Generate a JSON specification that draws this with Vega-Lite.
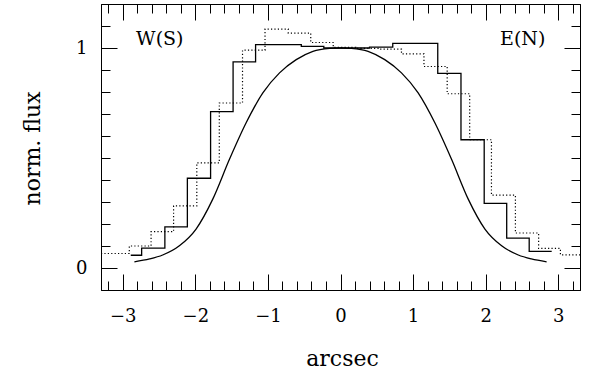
{
  "$schema": "https://vega.github.io/schema/vega-lite/v6.json",
  "width": 479,
  "height": 286,
  "autosize": "none",
  "padding": {"left": 101, "top": 4, "right": 19, "bottom": 86},
  "background": "white",
  "config": {
    "view": {"stroke": "black", "strokeWidth": 1},
    "axis": {
      "domainColor": "black",
      "domainWidth": 1,
      "tickColor": "black",
      "tickWidth": 1,
      "grid": false,
      "labelFont": "DejaVu Serif",
      "labelFontSize": 18,
      "labelColor": "black",
      "titleFont": "DejaVu Serif",
      "titleFontSize": 22,
      "titleFontWeight": "normal",
      "titleColor": "black",
      "labelFlush": false,
      "labelOverlap": false
    }
  },
  "datasets": {
    "curve": [
      {"x": -2.84, "y": 0.028}, {"x": -2.63, "y": 0.041}, {"x": -2.45, "y": 0.059}, {"x": -2.22, "y": 0.101},
      {"x": -1.99, "y": 0.177}, {"x": -1.76, "y": 0.313}, {"x": -1.53, "y": 0.494}, {"x": -1.30, "y": 0.66},
      {"x": -1.07, "y": 0.796}, {"x": -0.84, "y": 0.887}, {"x": -0.61, "y": 0.947}, {"x": -0.38, "y": 0.985},
      {"x": -0.15, "y": 0.998}, {"x": 0, "y": 1.0}, {"x": 0.15, "y": 0.998}, {"x": 0.38, "y": 0.985},
      {"x": 0.61, "y": 0.947}, {"x": 0.84, "y": 0.887}, {"x": 1.07, "y": 0.796}, {"x": 1.30, "y": 0.66},
      {"x": 1.53, "y": 0.494}, {"x": 1.76, "y": 0.313}, {"x": 1.99, "y": 0.177}, {"x": 2.22, "y": 0.101},
      {"x": 2.45, "y": 0.059}, {"x": 2.63, "y": 0.041}, {"x": 2.84, "y": 0.028}
    ],
    "solid": [
      {"x": -2.89, "y": 0.058}, {"x": -2.74, "y": 0.090}, {"x": -2.42, "y": 0.187}, {"x": -2.11, "y": 0.408},
      {"x": -1.79, "y": 0.711}, {"x": -1.48, "y": 0.937}, {"x": -1.17, "y": 1.015}, {"x": -0.54, "y": 1.007},
      {"x": -0.23, "y": 1.0}, {"x": 0.40, "y": 1.004}, {"x": 0.72, "y": 1.021}, {"x": 1.34, "y": 0.885},
      {"x": 1.66, "y": 0.583}, {"x": 1.98, "y": 0.294}, {"x": 2.29, "y": 0.136}, {"x": 2.60, "y": 0.076},
      {"x": 2.91, "y": 0.076}
    ],
    "dotted": [
      {"x": -3.30, "y": 0.066}, {"x": -2.91, "y": 0.100}, {"x": -2.61, "y": 0.165}, {"x": -2.30, "y": 0.282},
      {"x": -1.98, "y": 0.478}, {"x": -1.67, "y": 0.750}, {"x": -1.35, "y": 0.990}, {"x": -1.04, "y": 1.086},
      {"x": -0.72, "y": 1.068}, {"x": -0.41, "y": 1.025}, {"x": -0.10, "y": 1.003}, {"x": 0.21, "y": 0.998},
      {"x": 0.53, "y": 0.995}, {"x": 0.84, "y": 0.973}, {"x": 1.15, "y": 0.916}, {"x": 1.47, "y": 0.792},
      {"x": 1.78, "y": 0.583}, {"x": 2.08, "y": 0.331}, {"x": 2.41, "y": 0.159}, {"x": 2.73, "y": 0.089},
      {"x": 3.03, "y": 0.060}, {"x": 3.30, "y": 0.060}
    ],
    "labels": [
      {"x": -2.49, "y": 1.042, "text": "W(S)"},
      {"x": 2.51, "y": 1.042, "text": "E(N)"}
    ]
  },
  "layer": [
    {
      "data": {"name": "curve"},
      "mark": {"type": "line", "color": "black", "strokeWidth": 1.3, "interpolate": "monotone", "clip": true},
      "encoding": {
        "x": {"field": "x", "type": "quantitative", "scale": {"domain": [-3.3, 3.3], "nice": false, "zero": false},
          "axis": {
            "orient": "bottom",
            "values": [-3.2,-3,-2.8,-2.6,-2.4,-2.2,-2,-1.8,-1.6,-1.4,-1.2,-1,-0.8,-0.6,-0.4,-0.2,0,0.2,0.4,0.6,0.8,1,1.2,1.4,1.6,1.8,2,2.2,2.4,2.6,2.8,3,3.2],
            "format": ".0f",
            "labelExpr": "abs(datum.value - round(datum.value)) < 0.001 ? datum.label : ''",
            "tickSize": {"condition": {"test": "abs(datum.value - round(datum.value)) < 0.001", "value": -16}, "value": -9},
            "labelPadding": 33,
            "title": "arcsec",
            "titleX": 241,
            "titleY": 75,
            "titleBaseline": "alphabetic",
            "titleAlign": "center"
          }},
        "y": {"field": "y", "type": "quantitative", "scale": {"domain": [-0.1, 1.2], "nice": false, "zero": false},
          "axis": {
            "orient": "left",
            "values": [0,0.1,0.2,0.3,0.4,0.5,0.6,0.7,0.8,0.9,1,1.1],
            "format": ".0f",
            "labelExpr": "abs(datum.value - round(datum.value)) < 0.001 ? datum.label : ''",
            "tickSize": {"condition": {"test": "abs(datum.value - round(datum.value)) < 0.001", "value": -16}, "value": -9},
            "labelPadding": 30,
            "title": "norm. flux",
            "titleX": -62,
            "titleY": 144,
            "titleAngle": -90,
            "titleBaseline": "alphabetic",
            "titleAlign": "center"
          }}
      }
    },
    {
      "data": {"name": "solid"},
      "mark": {"type": "line", "color": "black", "strokeWidth": 1.3, "interpolate": "step-after", "clip": true},
      "encoding": {
        "x": {"field": "x", "type": "quantitative", "scale": {"domain": [-3.3, 3.3], "nice": false, "zero": false}, "axis": null},
        "y": {"field": "y", "type": "quantitative", "scale": {"domain": [-0.1, 1.2], "nice": false, "zero": false}, "axis": null}
      }
    },
    {
      "data": {"name": "dotted"},
      "mark": {"type": "line", "color": "black", "strokeWidth": 1.2, "strokeDash": [1.2, 2.2], "interpolate": "step-after", "clip": true},
      "encoding": {
        "x": {"field": "x", "type": "quantitative", "scale": {"domain": [-3.3, 3.3], "nice": false, "zero": false}, "axis": null},
        "y": {"field": "y", "type": "quantitative", "scale": {"domain": [-0.1, 1.2], "nice": false, "zero": false}, "axis": null}
      }
    },
    {
      "data": {"name": "labels"},
      "mark": {"type": "text", "font": "DejaVu Serif", "fontSize": 19, "color": "black", "align": "center", "baseline": "middle"},
      "encoding": {
        "x": {"field": "x", "type": "quantitative", "scale": {"domain": [-3.3, 3.3], "nice": false, "zero": false}, "axis": null},
        "y": {"field": "y", "type": "quantitative", "scale": {"domain": [-0.1, 1.2], "nice": false, "zero": false}, "axis": null},
        "text": {"field": "text", "type": "nominal"}
      }
    },
    {
      "data": {"name": "curve"},
      "mark": {"type": "line", "opacity": 0},
      "encoding": {
        "x": {"field": "x", "type": "quantitative", "scale": {"domain": [-3.3, 3.3], "nice": false, "zero": false},
          "axis": {
            "orient": "top",
            "values": [-3.2,-3,-2.8,-2.6,-2.4,-2.2,-2,-1.8,-1.6,-1.4,-1.2,-1,-0.8,-0.6,-0.4,-0.2,0,0.2,0.4,0.6,0.8,1,1.2,1.4,1.6,1.8,2,2.2,2.4,2.6,2.8,3,3.2],
            "labels": false,
            "title": null,
            "tickSize": {"condition": {"test": "abs(datum.value - round(datum.value)) < 0.001", "value": -16}, "value": -9}
          }},
        "y": {"field": "y", "type": "quantitative", "scale": {"domain": [-0.1, 1.2], "nice": false, "zero": false},
          "axis": {
            "orient": "right",
            "values": [0,0.1,0.2,0.3,0.4,0.5,0.6,0.7,0.8,0.9,1,1.1],
            "labels": false,
            "title": null,
            "tickSize": {"condition": {"test": "abs(datum.value - round(datum.value)) < 0.001", "value": -16}, "value": -9}
          }}
      }
    }
  ],
  "resolve": {"axis": {"x": "independent", "y": "independent"}}
}
